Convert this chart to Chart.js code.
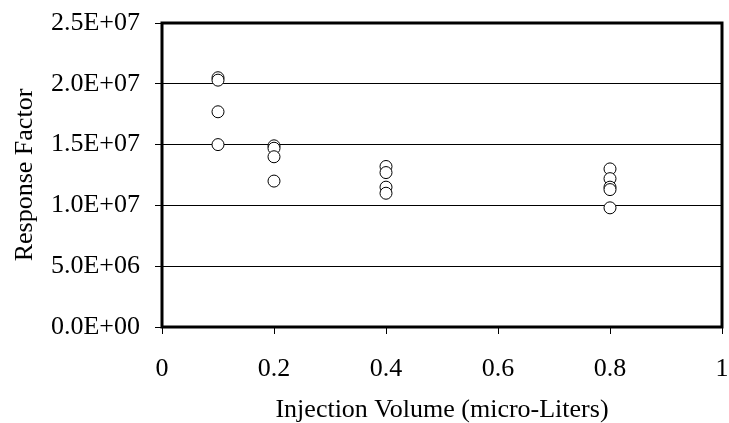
<!DOCTYPE html>
<html lang="en">
<head>
  <meta charset="UTF-8" />
  <title>Response Factor vs Injection Volume</title>
  <script src="https://cdn.jsdelivr.net/npm/chart.js"></script>
  <style>
    html, body { margin: 0; padding: 0; background: #fff; }
    canvas { display: block; }
  </style>
</head>
<body>
  <canvas id="rfChart" width="729" height="423"></canvas>

  <script>
    // injection volumes (uL) and measured response factors
    const volumes = [0.1, 0.1, 0.1, 0.1,
                     0.2, 0.2, 0.2, 0.2,
                     0.4, 0.4, 0.4, 0.4,
                     0.8, 0.8, 0.8, 0.8, 0.8];
    const responseFactors = [2.05e7, 2.03e7, 1.77e7, 1.50e7,
                             1.49e7, 1.47e7, 1.40e7, 1.20e7,
                             1.32e7, 1.27e7, 1.15e7, 1.10e7,
                             1.30e7, 1.22e7, 1.15e7, 1.13e7, 0.98e7];
    const xTicks = [0, 0.2, 0.4, 0.6, 0.8, 1];
    const yTicks = [0, 5e6, 1e7, 1.5e7, 2e7, 2.5e7];

    const serif = '"Liberation Serif", "Times New Roman", serif';
    const fontSize = 26;

    // Excel-style scientific label, e.g. 1.5E+07
    function sci(v) {
      if (v === 0) return '0.0E+00';
      const exp = Math.floor(Math.log10(Math.abs(v)));
      const mant = v / Math.pow(10, exp);
      const sign = exp < 0 ? '-' : '+';
      return mant.toFixed(1) + 'E' + sign + String(Math.abs(exp)).padStart(2, '0');
    }

    const points = volumes.map((x, i) => ({ x: x, y: responseFactors[i] }));

    // thick frame round the plot plus the two axis titles
    const frame = {
      id: 'frame',
      afterDraw(chart) {
        const { ctx, chartArea: a } = chart;
        ctx.save();
        ctx.strokeStyle = '#000';
        ctx.lineWidth = 3;
        ctx.strokeRect(a.left, a.top, a.right - a.left, a.bottom - a.top);

        ctx.fillStyle = '#000';
        ctx.font = fontSize + 'px ' + serif;
        ctx.textAlign = 'center';
        ctx.textBaseline = 'middle';
        ctx.fillText('Injection Volume (micro-Liters)', (a.left + a.right) / 2, 410);

        ctx.translate(25, (a.top + a.bottom) / 2);
        ctx.rotate(-Math.PI / 2);
        ctx.fillText('Response Factor', 0, 0);
        ctx.restore();
      }
    };

    new Chart(document.getElementById('rfChart'), {
      type: 'scatter',
      data: {
        datasets: [{
          label: 'Response Factor',
          data: points,
          pointRadius: 6,
          pointHoverRadius: 6,
          pointBackgroundColor: '#fff',
          pointBorderColor: '#000',
          pointBorderWidth: 1
        }]
      },
      options: {
        responsive: false,
        animation: false,
        layout: { padding: { top: 23, right: 6, left: 0, bottom: 0 } },
        plugins: {
          legend: { display: false },
          tooltip: { enabled: false }
        },
        scales: {
          x: {
            type: 'linear',
            min: 0,
            max: 1,
            afterFit(scale) {
              scale.height = 96;
              scale.paddingLeft = 0;
              scale.paddingRight = 0;
            },
            afterBuildTicks(scale) { scale.ticks = xTicks.map(v => ({ value: v })); },
            grid: { drawOnChartArea: false, color: '#000', tickLength: 7, lineWidth: 1 },
            border: { display: false },
            ticks: {
              color: '#000',
              padding: 20,
              font: { family: serif, size: fontSize },
              callback: v => String(v)
            }
          },
          y: {
            min: 0,
            max: 2.5e7,
            afterFit(scale) {
              scale.width = 162;
              scale.paddingTop = 0;
              scale.paddingBottom = 0;
            },
            afterBuildTicks(scale) { scale.ticks = yTicks.map(v => ({ value: v })); },
            grid: { color: '#000', tickLength: 7, lineWidth: 1 },
            border: { display: false },
            ticks: {
              color: '#000',
              padding: 15,
              font: { family: serif, size: fontSize },
              callback: v => sci(v)
            }
          }
        }
      },
      plugins: [frame]
    });
  </script>
</body>
</html>
